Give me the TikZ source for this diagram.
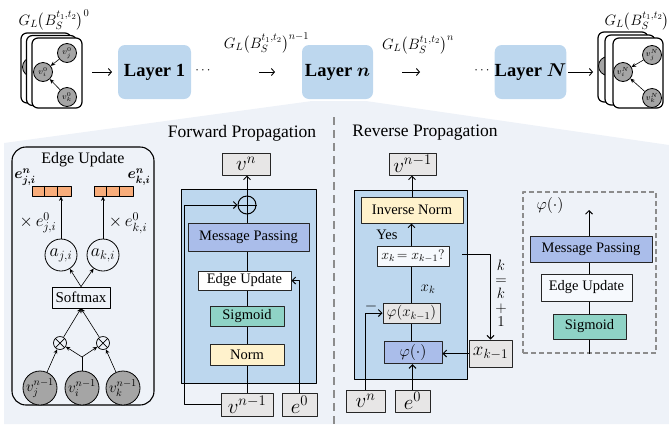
\RequirePackage{fix-cm}
\documentclass[tikz,border=0pt]{standalone}
\usepackage{fontspec}
\setmainfont{Liberation Serif}
\usepackage{amsmath,bm}
\usetikzlibrary{arrows.meta}
\definecolor{bgfan}{HTML}{EEF2F8}
\definecolor{lblue}{HTML}{BDD7EE}
\definecolor{mpblue}{HTML}{AABDEA}
\definecolor{tealc}{HTML}{8FD3C6}
\definecolor{ylw}{HTML}{FFF2CC}
\definecolor{gbox}{HTML}{E7E6E6}
\definecolor{orng}{HTML}{F8AD7B}
\definecolor{gnode}{HTML}{A5A5A5}
\definecolor{dashg}{HTML}{8C8C8C}
\definecolor{euw}{HTML}{F6F9FD}
\newcommand\fsz[1]{\fontsize{#1}{#1}\selectfont}
\begin{document}
\begin{tikzpicture}[x=1pt,y=-1pt,line join=round,
 card/.style={draw, line width=1.2pt, rounded corners=6pt, fill=white, minimum width=50pt, minimum height=70pt, inner sep=0pt},
 gnd/.style={circle, draw, line width=0.8pt, fill=gnode, minimum size=19pt, inner sep=0pt, font=\fsz{8.5}},
 layer/.style={rounded corners=7pt, fill=lblue, minimum height=54pt, inner sep=0pt, font=\fsz{18.5}\bfseries},
 box/.style={draw=black!85, line width=1pt, inner sep=1pt, font=\fsz{14.5}},
 gb/.style={box, fill=gbox, font=\fsz{21}},
 arr/.style={line width=1pt, -{Straight Barb[length=3.5pt,width=7pt,line width=1pt]}},
 tarr/.style={line width=0.9pt, -{Straight Barb[length=3pt,width=7pt,line width=0.9pt]}},
 sarr/.style={line width=0.6pt, -{Stealth[length=4.5pt,width=4pt]}},
 ln/.style={line width=1pt},
 bar/.style={draw, line width=0.8pt, fill=orng, minimum width=39pt, minimum height=10pt, inner sep=0pt},
 acirc/.style={circle, draw, line width=0.8pt, minimum size=32pt, inner sep=0pt, font=\fsz{18}},
 otim/.style={circle, draw, line width=0.7pt, minimum size=13pt, inner sep=0pt},
 bgn/.style={circle, draw, line width=0.8pt, fill=gnode, minimum size=34pt, inner sep=0pt, font=\fsz{15}},
]
\useasboundingbox (0,0) rectangle (669,424);
% background fan
\fill[bgfan] (4,424) -- (4,143) -- (312,101) -- (366,101) -- (669,145) -- (669,424) -- cycle;

% ---------- top row ----------
\node[font=\fsz{15}] (gl0) at (54,20) {$G_L\big(B_S^{t_1,t_2}\big)^0$};
\node[card] (cl3) at (46,68) {};
\node[gnd] (pl3) at (32,67) {};
\node[card] (cl2) at (51.5,70.5) {};
\node[card] (cl1) at (57,73) {};
\node[gnd] (vj0) at (67,53) {$v_j^0$};
\node[gnd] (vi0) at (43,72) {$v_i^0$};
\node[gnd] (vk0) at (67,97) {$v_k^0$};
\draw[sarr] (vj0) -- (vi0);
\draw[sarr] (vk0) -- (vi0);

\coordinate (t1s) at (92,72); \coordinate (t1e) at (112,72);
\draw[tarr] (t1s) -- (t1e);
\node[layer, minimum width=73pt] (L1) at (154.5,72) {Layer 1};
\node[font=\fsz{13}] (d1) at (204,71) {$\cdots$};
\node[font=\fsz{15}] (gln1) at (266.5,43) {$G_L\big(B_S^{t_1,t_2}\big)^{n-1}$};
\coordinate (t2s) at (259,72); \coordinate (t2e) at (275,72);
\draw[tarr] (t2s) -- (t2e);
\node[layer, minimum width=71pt] (Ln) at (337.5,72) {Layer $\bm{n}$};
\node[font=\fsz{15}] (gln) at (418,45) {$G_L\big(B_S^{t_1,t_2}\big)^{n}$};
\coordinate (t3s) at (402,72); \coordinate (t3e) at (420,72);
\draw[tarr] (t3s) -- (t3e);
\node[font=\fsz{13}] (d2) at (483,71) {$\cdots$};
\node[layer, minimum width=71pt] (LN) at (530.5,72) {Layer $\bm{N}$};
\coordinate (t4s) at (568,72); \coordinate (t4e) at (593,72);
\draw[tarr] (t4s) -- (t4e);
\node[card] (cr3) at (623,67) {};
\node[gnd] (pr3) at (608,66) {};
\node[card] (cr2) at (630,70) {};
\node[card] (cr1) at (638,73) {};
\node[gnd] (vjN) at (652,55) {$v_j^N$};
\node[gnd] (viN) at (623,72) {$v_i^N$};
\node[gnd] (vkN) at (652,98) {$v_k^N$};
\draw[sarr] (vjN) -- (viN);
\draw[sarr] (vkN) -- (viN);
\node[font=\fsz{15}, anchor=west] (glN) at (601,20) {$G_L\big(B_S^{t_1,t_2}\big)^N$};

% divider
\coordinate (dvt) at (334,117); \coordinate (dvb) at (334,424);
\draw[dashg, line width=2.5pt, dash pattern=on 8pt off 5pt] (dvt) -- (dvb);
\node[font=\fsz{17.5}] (fwt) at (242,133) {Forward Propagation};
\node[font=\fsz{17.5}] (rvt) at (425,133) {Reverse Propagation};

% ---------- edge update panel ----------
\node[draw, line width=1.1pt, rounded corners=14pt, minimum width=142pt, minimum height=258pt, inner sep=0pt] (eup) at (83,276) {};
\node[font=\fsz{16}] (eut) at (83,160) {Edge Update};
\node[font=\fsz{15}] (ejl) at (25,177) {$\bm{e}^{\bm{n}}_{\bm{j,i}}$};
\node[font=\fsz{15}] (ekl) at (139,177) {$\bm{e}^{\bm{n}}_{\bm{k,i}}$};
\node[bar] (barL) at (51.5,191) {};
\node[bar] (barR) at (113.5,191) {};
\foreach \b in {barL,barR}{
  \draw[line width=0.8pt] ([xshift=13pt]\b.north west) -- ([xshift=13pt]\b.south west);
  \draw[line width=0.8pt] ([xshift=26pt]\b.north west) -- ([xshift=26pt]\b.south west);
}
\node[acirc] (aji) at (61,255) {$a_{j,i}$};
\node[acirc] (aki) at (103,255) {$a_{k,i}$};
\draw[sarr] (aji.north) -- (aji.north |- barL.south);
\draw[sarr] (aki.north) -- (aki.north |- barR.south);
\node[font=\fsz{17}] (xj) at (38,223) {$\times\, e^0_{j,i}$};
\node[font=\fsz{17}] (xk) at (128,223) {$\times\, e^0_{k,i}$};
\node[draw, line width=0.8pt, minimum width=58pt, minimum height=21pt, inner sep=0pt, font=\fsz{15}] (soft) at (81,297.5) {Softmax};
\draw[sarr] (soft.north) -- (aji);
\draw[sarr] (soft.north) -- (aki);
\node[otim] (o1) at (60,343) {};
\node[otim] (o2) at (103,343) {};
\foreach \o in {o1,o2}{
  \draw[line width=0.7pt] (\o.north east) -- (\o.south west) (\o.north west) -- (\o.south east);
}
\node[bgn] (vj1) at (40,388) {$v_j^{n-1}$};
\node[bgn] (vi1) at (82,388) {$v_i^{n-1}$};
\node[bgn] (vk1) at (123,388) {$v_k^{n-1}$};
\coordinate (jn) at (82,357);
\draw[sarr] (vj1) -- (o1);
\draw[sarr] (vk1) -- (o2);
\draw[line width=0.6pt] (vi1.north) -- (jn);
\draw[sarr] (jn) -- (o1);
\draw[sarr] (jn) -- (o2);
\draw[sarr] (o1) -- (soft.south);
\draw[sarr] (o2) -- (soft.south);

% ---------- forward propagation ----------
\node[gb, minimum width=48pt, minimum height=22pt] (vnf) at (246,164) {$v^n$};
\node[draw, line width=1pt, fill=lblue, minimum width=135pt, minimum height=194pt] (fbig) at (248.5,286) {};
\node[circle, draw, line width=1pt, minimum size=18pt, inner sep=0pt] (op) at (247,205) {};
\draw[line width=1pt] (op.north) -- (op.south) (op.west) -- (op.east);
\node[box, fill=mpblue, minimum width=121pt, minimum height=28pt] (mpf) at (248.5,237) {Message Passing};
\node[box, fill=white, minimum width=93pt, minimum height=19pt] (euf) at (244.5,280.5) {Edge Update};
\node[box, fill=tealc, minimum width=74pt, minimum height=20pt] (sgf) at (247,316) {Sigmoid};
\node[box, fill=ylw, minimum width=74pt, minimum height=21pt] (nmf) at (247,354.5) {Norm};
\node[gb, minimum width=52pt, minimum height=23pt] (vn1f) at (247,404.5) {$v^{n-1}$};
\node[gb, minimum width=35pt, minimum height=23pt] (e0f) at (299.5,404.5) {$e^0$};
\draw[ln] (vn1f.north) -- (vn1f.north |- nmf.south);
\draw[ln] (nmf.north) -- (nmf.north |- sgf.south);
\draw[ln] (sgf.north) -- (sgf.north |- euf.south);
\draw[ln] (sgf.north |- euf.north) -- (sgf.north |- mpf.south);
\draw[ln] (sgf.north |- mpf.north) -- (op.south);
\draw[arr] (op.north) -- (op.north |- vnf.south);
\draw[arr] (vn1f.west) -- ++(-36,0) |- (op.west);
\draw[arr] (e0f.north) |- (euf.east);

% ---------- reverse propagation ----------
\node[gb, minimum width=47pt, minimum height=22pt] (vn1r) at (412.5,164) {$v^{n-1}$};
\node[draw, line width=1pt, fill=lblue, minimum width=113pt, minimum height=189pt] (rbig) at (410.5,284.5) {};
\node[box, fill=ylw, minimum width=102pt, minimum height=26pt] (inr) at (412,210) {Inverse Norm};
\node[font=\fsz{14.5}] (yes) at (387,235) {Yes};
\node[box, fill=euw, minimum width=72pt, minimum height=20pt, font=\fsz{14}] (cond) at (413,256) {$x_k\!=x_{k-1}?$};
\node[gb, minimum width=57pt, minimum height=20pt, font=\fsz{15}] (phx) at (411.5,313) {$\varphi(x_{k-1})$};
\node[box, fill=mpblue, minimum width=58pt, minimum height=22pt, font=\fsz{16}] (phi) at (413,352.5) {$\varphi(\cdot)$};
\node[gb, minimum width=43pt, minimum height=27pt, font=\fsz{19}] (xk1) at (490.5,353.5) {$x_{k-1}$};
\node[gb, minimum width=39pt, minimum height=22pt] (vnr) at (365.5,401) {$v^n$};
\node[gb, minimum width=35pt, minimum height=22pt] (e0r) at (412.5,401) {$e^0$};
\node[font=\fsz{15}] (xkl) at (428,289) {$x_k$};
\node[font=\fsz{15}, align=center, inner sep=0pt] (kk) at (501,293) {$k$\\[-1pt]$=$\\[-1pt]$k$\\[-1pt]$+$\\[-1pt]$1$};
\node[font=\fsz{16}, inner sep=0pt] (mns) at (371,306) {$-$};
\coordinate (ck) at (462,254);
\draw[line width=1.3pt, -{Straight Barb[length=3.5pt,width=7pt,line width=1.2pt]}] (e0r.north) -- (e0r.north |- phi.south);
\draw[ln] (phi.north -| phx.south) -- (phx.south);
\draw[ln] (phx.north) -- (phx.north |- cond.south);
\draw[arr] (phx.north |- cond.north) -- (phx.north |- inr.south);
\draw[arr] (inr.north) -- (inr.north |- vn1r.south);
\draw[arr] (vnr.north) |- (phx.west);
\draw[arr] (ck) -| (xk1.north);
\draw[arr] (xk1.west) -- (phi.east |- xk1.west);

% ---------- phi box ----------
\node[draw=dashg, dashed, line width=1.2pt, dash pattern=on 5pt off 3pt, minimum width=133pt, minimum height=161pt] (phb) at (589.5,272.5) {};
\node[font=\fsz{16}] (phl) at (550,205) {$\varphi(\cdot)$};
\node[box, fill=mpblue, minimum width=122pt, minimum height=26pt] (mp2) at (591,249) {Message Passing};
\node[box, fill=euw, minimum width=91pt, minimum height=27pt] (eu2) at (586.5,287.5) {Edge Update};
\node[box, fill=tealc, minimum width=73pt, minimum height=25pt] (sg2) at (589.5,326.5) {Sigmoid};
\coordinate (top2) at (589,210);
\draw[arr] (mp2.north -| top2) -- (top2);
\draw[ln] (sg2.north) -- (sg2.north |- eu2.south);
\draw[ln] (sg2.north |- eu2.north) -- (sg2.north |- mp2.south);
\draw[ln] (sg2.south) -- (sg2.south |- phb.south);
\end{tikzpicture}
\end{document}
